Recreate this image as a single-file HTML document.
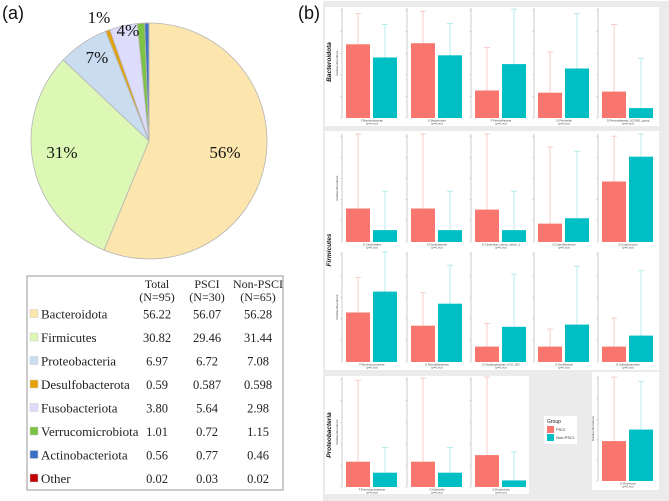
<!DOCTYPE html>
<html><head><meta charset="utf-8">
<style>
body{margin:0;background:#fff;}
svg{display:block;}
</style></head>
<body>
<svg id="fig" width="669" height="501" xmlns="http://www.w3.org/2000/svg">
<rect x="0" y="0" width="669" height="501" fill="#fff"/>
<text x="2" y="19" font-family="Liberation Sans, sans-serif" font-size="18" fill="#111">(a)</text>
<text x="298" y="19" font-family="Liberation Sans, sans-serif" font-size="18" fill="#111">(b)</text>
<g id="pie"></g>
<g id="table"></g>
<rect x="323" y="1" width="346" height="500" fill="#ebebeb"/>
<g id="bars"></g>
</svg>
<script>
// ---- pie / table data ----
const phyla = ["Bacteroidota","Firmicutes","Proteobacteria","Desulfobacterota","Fusobacteriota","Verrucomicrobiota","Actinobacteriota","Other"];
const totalVals = [56.22,30.82,6.97,0.59,3.80,1.01,0.56,0.02];
const totalText = ["56.22","30.82","6.97","0.59","3.80","1.01","0.56","0.02"];
const psciText = ["56.07","29.46","6.72","0.587","5.64","0.72","0.77","0.03"];
const nonText = ["56.28","31.44","7.08","0.598","2.98","1.15","0.46","0.02"];
const pieLabels = ["56%","31%","7%","1%","4%","","",""];
const phylumColors = ["#fde6ae","#ddf8b4","#cadcf0","#e3a20a","#dedcfb","#7cc244","#3e6fc6","#c00000"];

// ---- bar panel data (values as % of each subplot's axis height) ----
const row1Names = ["F.Bacteroidaceae","G.Bacteroides","F.Prevotellaceae","G.Prevotella","G.Prevotellaceae_UCG001_group"];
const row1P = [67,68,25,23,24];
const row1N = [55,57,49,45,9];
const row1PErr = [95,97,64,60,85];
const row1NErr = [85,86,99,95,54];
const row2aNames = ["O.Clostridiales","F.Clostridiaceae","G.Clostridium_sensu_stricto_1","G.Catenibacterium","G.Coprococcus"];
const row2aP = [31,31,30,17,56];
const row2aN = [11,11,11,22,79];
const row2aPErr = [100,100,100,88,98];
const row2aNErr = [47,47,47,84,100];
const row2bNames = ["F.Ruminococcaceae","G.Faecalibacterium","G.Oscillospiraceae_UCG_002","G.Oscillibacter","G.Subdoligranulum"];
const row2bP = [45,33,14,14,14];
const row2bN = [64,53,32,34,24];
const row2bPErr = [77,63,35,30,40];
const row2bNErr = [100,88,80,87,83];
const row3Names = ["F.Enterobacteriaceae","G.Klebsiella","G.Escherichia"];
const row3P = [23,23,29];
const row3N = [13,13,6];
const row3PErr = [97,99,100];
const row3NErr = [36,36,32];
const extraNames = ["G.Roseburia"];
const extraP = [38];
const extraN = [49];
const extraPErr = [99];
const extraNErr = [95];
const pvals = ["(p=0.xxx)"];

const NS="http://www.w3.org/2000/svg";
function mk(tag,attrs,parent){const e=document.createElementNS(NS,tag);for(const k in attrs)e.setAttribute(k,attrs[k]);parent.appendChild(e);return e;}

// ---- pie ----
const pie=document.getElementById('pie');
const cx=149,cy=141,R=118;
const sum=totalVals.reduce((a,b)=>a+b,0);
let ang=0;
const labelPos=[[225,158],[62,158],[97,63],[99,23],[128,36]];
totalVals.forEach((v,i)=>{
  const a0=ang, a1=ang+v/sum*2*Math.PI; ang=a1;
  const x0=cx+R*Math.sin(a0),y0=cy-R*Math.cos(a0),x1=cx+R*Math.sin(a1),y1=cy-R*Math.cos(a1);
  const large=(a1-a0)>Math.PI?1:0;
  const p=mk('path',{d:`M${cx},${cy}L${x0},${y0}A${R},${R} 0 ${large} 1 ${x1},${y1}Z`,fill:phylumColors[i],stroke:'#b5b5b5','stroke-width':0.8},pie);
  
  
});
pieLabels.forEach((l,i)=>{
  if(!l)return;
  const t=mk('text',{x:labelPos[i][0],y:labelPos[i][1],'font-family':'Liberation Serif, serif','font-size':17,fill:'#111','text-anchor':'middle'},pie);
  t.textContent=l;
  
  
});

// ---- table ----
const tb=document.getElementById('table');
const box=mk('rect',{x:27,y:276,width:256,height:214,fill:'#fff',stroke:'#999','stroke-width':1},tb);


const colX=[157,207,258];
const hdr=[["Total","(N=95)"],["PSCI","(N=30)"],["Non-PSCI","(N=65)"]];
hdr.forEach((h,j)=>{
  h.forEach((s,k)=>{
    const t=mk('text',{x:colX[j],y:288+k*13,'font-family':'Liberation Serif, serif','font-size':12,fill:'#222','text-anchor':'middle'},tb);
    t.textContent=s;
    
    
  });
});
phyla.forEach((n,i)=>{
  const y=314+i*23.5;
  const sq=mk('rect',{x:30,y:y-4.5,width:8,height:8,fill:phylumColors[i],stroke:'#ccc','stroke-width':0.5},tb);
  
  
  const t=mk('text',{x:41,y:y+4.5,'font-family':'Liberation Serif, serif','font-size':13,fill:'#222'},tb);
  t.textContent=n;
  
  
  [totalText[i],psciText[i],nonText[i]].forEach((s,j)=>{
    const c=mk('text',{x:colX[j],y:y+4.5,'font-family':'Liberation Serif, serif','font-size':12.5,fill:'#222','text-anchor':'middle'},tb);
    c.textContent=s;
    
    
  });
});

// ---- bar panels ----
const bars=document.getElementById('bars');
function panel(x,y,w,h,name){
  const r=mk('rect',{x:x,y:y,width:w,height:h,fill:'#fff'},bars);
  
  
}
panel(325,7,334,119,'bacteroidota-panel');
panel(325,131,334,239,'firmicutes-panel');
panel(325,376,204,118,'proteobacteria-panel');
panel(592,372,67,118,'roseburia-panel');

function strip(label,x,y){
  const t=mk('text',{x:0,y:0,transform:`translate(${x},${y}) rotate(-90)`,'font-family':'Liberation Sans, sans-serif','font-size':6.5,'font-weight':'bold','font-style':'italic',fill:'#111','text-anchor':'middle'},bars);
  t.textContent=label;
  
  
}
strip('Bacteroidota',331,62);
strip('Firmicutes',331,250);
strip('Proteobacteria',331,435);

function subplots(x0s,base,height,names,P,N,PE,NE,rowName){
  names.forEach((nm,i)=>{
    const ax=x0s[i];
    const yS=v=>base-v/100*height;
    const axl=mk('line',{x1:ax,y1:base-height,x2:ax,y2:base,stroke:'#aaa','stroke-width':0.6},bars);
    
    
    for(let k=0;k<=5;k++){
      const ty=base-k/5*height*0.98;
      const tk=mk('line',{x1:ax-1.5,y1:ty,x2:ax,y2:ty,stroke:'#aaa','stroke-width':0.5},bars);
      
      
    }
    const groups=[[P[i],PE[i],4,'#f8766d','#f9c0bc','psci'],[N[i],NE[i],31,'#00bfc4','#a6e8ea','non-psci']];
    groups.forEach(g=>{
      const bx=ax+g[2],bw=24,cxm=bx+bw/2;
      const el=mk('line',{x1:cxm,y1:yS(g[1]),x2:cxm,y2:yS(g[0]),stroke:g[4],'stroke-width':0.8},bars);
      
      
      const cap=mk('line',{x1:cxm-3,y1:yS(g[1]),x2:cxm+3,y2:yS(g[1]),stroke:g[4],'stroke-width':0.8},bars);
      
      
      const b=mk('rect',{x:bx,y:yS(g[0]),width:bw,height:g[0]/100*height,fill:g[3]},bars);
      
      
    });
    const t=mk('text',{x:ax+30,y:base+3.5,'font-family':'Liberation Sans, sans-serif','font-size':2.8,fill:'#444','text-anchor':'middle'},bars);
    t.textContent=nm;
    
    
    const t2=mk('text',{x:ax+30,y:base+6.5,'font-family':'Liberation Sans, sans-serif','font-size':2.8,fill:'#444','text-anchor':'middle'},bars);
    t2.textContent=pvals[0];
    
    
    if(i===0){
      const yt=mk('text',{x:0,y:0,transform:`translate(${ax-4},${base-height/2}) rotate(-90)`,'font-family':'Liberation Sans, sans-serif','font-size':2.8,fill:'#444','text-anchor':'middle'},bars);
      yt.textContent='Relative Abundance';
      
      
    }
  });
}
const xs=[342,407,471,534,598];
subplots(xs,118,110,row1Names,row1P,row1N,row1PErr,row1NErr,'r1');
subplots(xs,242,108,row2aNames,row2aP,row2aN,row2aPErr,row2aNErr,'r2a');
subplots(xs,362,110,row2bNames,row2bP,row2bN,row2bPErr,row2bNErr,'r2b');
subplots(xs,487,110,row3Names,row3P,row3N,row3PErr,row3NErr,'r3');
subplots([598],481,105,extraNames,extraP,extraN,extraPErr,extraNErr,'ex');

// legend
const lg=mk('g',{},bars);


mk('rect',{x:544,y:416,width:33,height:28,fill:'#fff'},lg);
const lt=mk('text',{x:547,y:423,'font-family':'Liberation Sans, sans-serif','font-size':5,fill:'#222'},lg);
lt.textContent='Group';


[['PSCI','#f8766d',426],['Non-PSCI','#00bfc4',434]].forEach(e=>{
  const s=mk('rect',{x:547,y:e[2],width:7,height:7,fill:e[1]},lg);
  
  
  const t=mk('text',{x:556,y:e[2]+5,'font-family':'Liberation Sans, sans-serif','font-size':4,fill:'#333'},lg);
  t.textContent=e[0];
  
  
});
</script>
</body></html>
